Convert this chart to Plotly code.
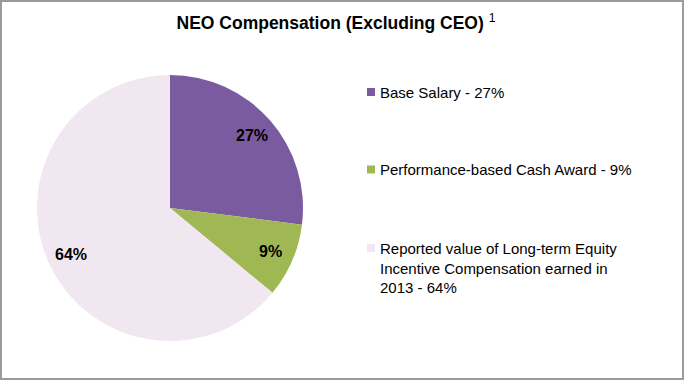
import math
import plotly.graph_objects as go

categories = [
    "Base Salary",
    "Performance-based Cash Award",
    "Reported value of Long-term Equity Incentive Compensation earned in 2013",
]
values = [27, 9, 64]
legend_text = [
    "Base Salary - 27%",
    "Performance-based Cash Award - 9%",
    "Reported value of Long-term Equity<br>Incentive Compensation earned in<br>2013 - 64%",
]
colors = ["#7B5BA0", "#A0B853", "#F1E7F1"]
title_text = "<b>NEO Compensation (Excluding CEO)</b> <sup>1</sup>"

W, H = 684, 380
FONT = "Liberation Sans, Arial, Helvetica, sans-serif"

# pie geometry (pixels)
pie_left, pie_right, pie_top, pie_bottom = 37, 303, 75, 341
cx = (pie_left + pie_right) / 2
cy = (pie_top + pie_bottom) / 2
R = (pie_right - pie_left) / 2
label_r = 0.82

# legend layout (pixels)
legend_key_x = 367
legend_key_size = 8
legend_text_x = 378
legend_rows_y = [92, 169.5, 248]

fig = go.Figure(
    go.Pie(
        labels=categories,
        values=values,
        sort=False,
        direction="clockwise",
        rotation=0,
        marker=dict(colors=colors, line=dict(width=0)),
        textinfo="none",
        domain=dict(x=[pie_left / W, pie_right / W], y=[1 - pie_bottom / H, 1 - pie_top / H]),
        hoverinfo="label+percent",
        showlegend=False,
    )
)

annotations = []
shapes = []

# slice percentage labels, placed at each slice's mid-angle
total = sum(values)
cum = 0.0
for v in values:
    mid = (cum + v / 2) / total * 2 * math.pi
    cum += v
    px = cx + label_r * R * math.sin(mid)
    py = cy - label_r * R * math.cos(mid)
    annotations.append(
        dict(
            x=px / W, y=1 - py / H, xref="paper", yref="paper",
            text=f"<b>{round(v / total * 100)}%</b>",
            showarrow=False, xanchor="center", yanchor="middle",
            font=dict(family=FONT, size=16, color="#000000"),
        )
    )

# legend keys and texts
for txt, col, ry in zip(legend_text, colors, legend_rows_y):
    shapes.append(
        dict(
            type="rect", xref="paper", yref="paper",
            x0=legend_key_x / W, x1=(legend_key_x + legend_key_size) / W,
            y0=1 - (ry + legend_key_size / 2) / H, y1=1 - (ry - legend_key_size / 2) / H,
            fillcolor=col, line=dict(width=0),
        )
    )
    annotations.append(
        dict(
            x=legend_text_x / W, y=1 - (ry - 10.5) / H, xref="paper", yref="paper",
            text=txt, showarrow=False, xanchor="left", yanchor="top", align="left",
            font=dict(family=FONT, size=15, color="#000000"),
        )
    )

# chart border
shapes.append(
    dict(
        type="rect", xref="paper", yref="paper", x0=0, x1=1, y0=0, y1=1,
        line=dict(color="#9A9A9A", width=4), fillcolor="rgba(0,0,0,0)", layer="above",
    )
)

fig.update_layout(
    width=W,
    height=H,
    margin=dict(l=0, r=0, t=0, b=0),
    paper_bgcolor="#FFFFFF",
    plot_bgcolor="#FFFFFF",
    font=dict(family=FONT, size=15, color="#000000"),
    title=dict(
        text=title_text,
        x=336 / W,
        xanchor="center",
        y=1 - 23 / H,
        yanchor="middle",
        font=dict(family=FONT, size=17.5, color="#000000"),
    ),
    showlegend=False,
    annotations=annotations,
    shapes=shapes,
)

fig.write_html(
    "out.html",
    config={"displayModeBar": False},
    post_script="document.body.style.margin='0px';document.body.style.padding='0px';",
)
